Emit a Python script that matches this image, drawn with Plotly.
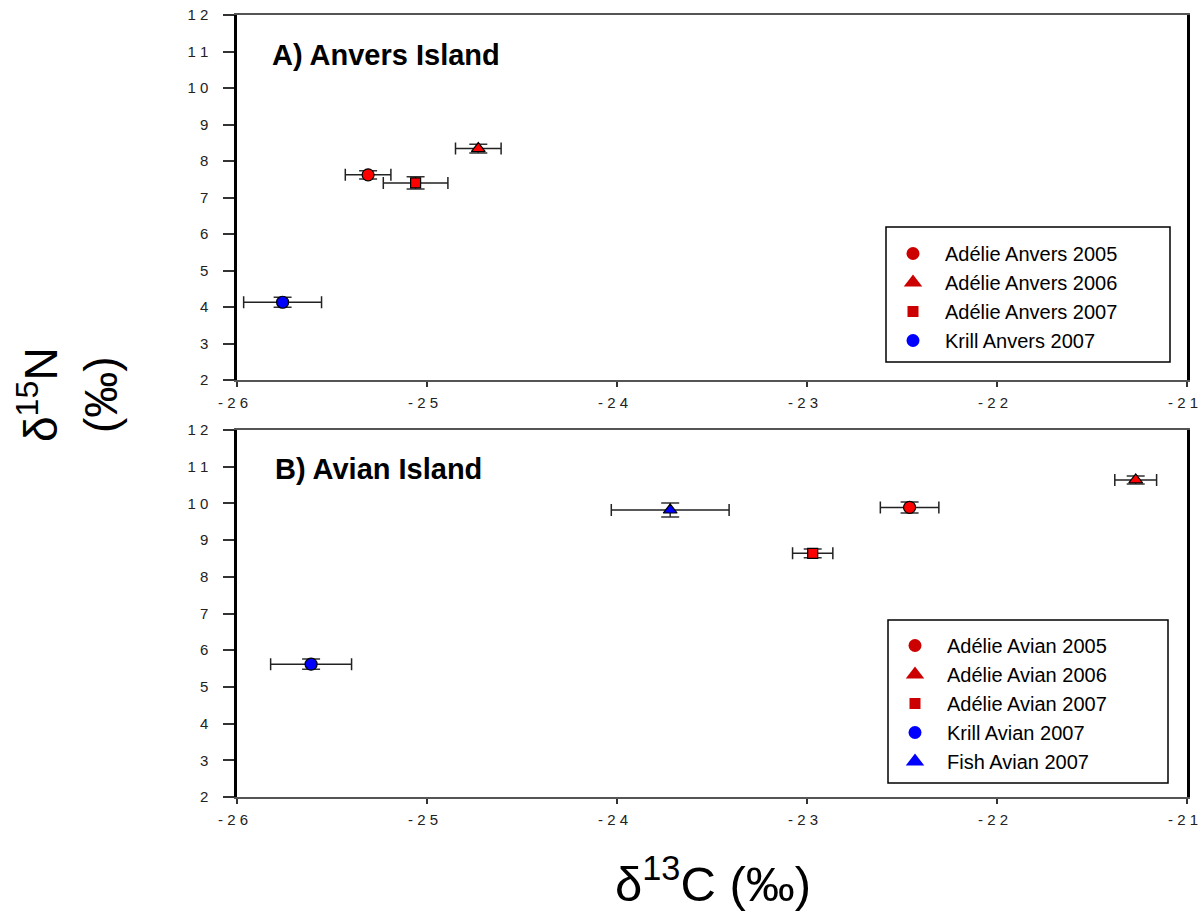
import plotly.graph_objects as go

# Anvers Island: mean δ13C / δ15N with SE
anvers_names = ["Adélie Anvers 2005", "Adélie Anvers 2006", "Adélie Anvers 2007", "Krill Anvers 2007"]
anvers_c = [-25.31, -24.73, -25.06, -25.76]
anvers_c_err = [0.12, 0.12, 0.17, 0.205]
anvers_n = [7.62, 8.34, 7.40, 4.13]
anvers_n_err = [0.11, 0.12, 0.17, 0.14]

# Avian Island
avian_names = ["Adélie Avian 2005", "Adélie Avian 2006", "Adélie Avian 2007", "Krill Avian 2007", "Fish Avian 2007"]
avian_c = [-22.46, -21.27, -22.97, -25.61, -23.72]
avian_c_err = [0.154, 0.11, 0.106, 0.213, 0.31]
avian_n = [9.89, 10.64, 8.64, 5.62, 9.82]
avian_n_err = [0.15, 0.11, 0.12, 0.14, 0.19]

x_ticks = [-26, -25, -24, -23, -22, -21]
x_tick_text = ["- 2 6", "- 2 5", "- 2 4", "- 2 3", "- 2 2", "- 2 1"]
y_ticks = list(range(2, 13))
y_tick_text = ["2", "3", "4", "5", "6", "7", "8", "9", "1 0", "1 1", "1 2"]

anvers_symbols = ["circle", "triangle-up", "square", "circle"]
anvers_colors = ["#ff0000", "#ff0000", "#ff0000", "#0000ff"]
anvers_legend_colors = ["#cc0000", "#cc0000", "#cc0000", "#0000ff"]
avian_symbols = ["circle", "triangle-up", "square", "circle", "triangle-up"]
avian_colors = ["#ff0000", "#ff0000", "#ff0000", "#0000ff", "#0000ff"]
avian_legend_colors = ["#cc0000", "#cc0000", "#cc0000", "#0000ff", "#0000ff"]

FONT = "Liberation Sans, Arial, sans-serif"
W, H = 1200, 913

fig = go.Figure()


def add_panel(names, cx, cxe, ny, nye, symbols, colors, lcolors, xa, ya, legend):
    for i, name in enumerate(names):
        size = 10 if symbols[i] == "square" else 12
        fig.add_trace(go.Scatter(
            x=[cx[i]], y=[ny[i]], mode="markers", xaxis=xa, yaxis=ya,
            showlegend=False,
            marker=dict(symbol=symbols[i], size=size, color=colors[i],
                        line=dict(color="black", width=1.2)),
            error_x=dict(type="data", array=[cxe[i]], color="#222222",
                         thickness=1.5, width=6),
            error_y=dict(type="data", array=[nye[i]], color="#333333",
                         thickness=1.5, width=9),
        ))
    # legend swatches: solid symbols without outline
    for i, name in enumerate(names):
        size = 11 if symbols[i] == "square" else (16 if symbols[i] == "triangle-up" else 13)
        fig.add_trace(go.Scatter(
            x=[None], y=[None], mode="markers", xaxis=xa, yaxis=ya,
            name=name, legend=legend,
            marker=dict(symbol=symbols[i], size=size, color=lcolors[i],
                        line=dict(width=0)),
        ))


add_panel(anvers_names, anvers_c, anvers_c_err, anvers_n, anvers_n_err,
          anvers_symbols, anvers_colors, anvers_legend_colors, "x", "y", "legend")
add_panel(avian_names, avian_c, avian_c_err, avian_n, avian_n_err,
          avian_symbols, avian_colors, avian_legend_colors, "x2", "y2", "legend2")

tick_font = dict(family=FONT, size=15, color="#222222")


def xaxis_style(anchor):
    return dict(range=[-26, -21], tickvals=x_ticks, ticktext=x_tick_text,
                domain=[237 / W, 1187 / W], anchor=anchor, automargin=False,
                showgrid=False, zeroline=False, showline=True,
                linecolor="#555555", linewidth=1.5, mirror=True,
                ticks="outside", ticklen=5, tickwidth=1.5, tickcolor="#333333",
                tickfont=tick_font, ticklabelstandoff=3, ticklabelshift=-4,
                ticklabeloverflow="allow")


def yaxis_style(anchor, top_px, bottom_px):
    return dict(range=[2, 12], tickvals=y_ticks, ticktext=y_tick_text,
                domain=[1 - bottom_px / H, 1 - top_px / H], anchor=anchor,
                automargin=False,
                showgrid=False, zeroline=False, showline=True,
                linecolor="black", linewidth=2.5, mirror=True,
                ticks="outside", ticklen=11, tickwidth=1.5, tickcolor="#333333",
                tickfont=tick_font, ticklabelstandoff=12, ticklabeloverflow="allow")


legend_style = dict(font=dict(family=FONT, size=20, color="black"),
                    bgcolor="rgba(0,0,0,0)", borderwidth=0,
                    xanchor="left", yanchor="top", itemsizing="trace",
                    itemwidth=54, tracegroupgap=0)

# legend frames (x0, y0, x1, y1 in pixels)
frames = [(886, 227, 1170, 362), (888, 620, 1168, 783)]
shapes = [dict(type="rect", xref="paper", yref="paper",
               x0=a / W, x1=c / W, y0=1 - d / H, y1=1 - b / H,
               line=dict(color="black", width=1.5), fillcolor="white", layer="below")
          for a, b, c, d in frames]

fig.update_layout(
    width=W, height=H,
    margin=dict(l=0, r=0, t=0, b=0, autoexpand=False),
    paper_bgcolor="white", plot_bgcolor="white",
    xaxis=xaxis_style("y"),
    yaxis=yaxis_style("x", 15, 380),
    xaxis2=xaxis_style("y2"),
    yaxis2=yaxis_style("x2", 430, 797),
    shapes=shapes,
    legend=dict(x=881 / W, y=1 - 234 / H, **legend_style),
    legend2=dict(x=883 / W, y=1 - 626 / H, **legend_style),
    annotations=[
        dict(text="<b>A) Anvers Island</b>", xref="x domain", yref="y domain",
             x=(270 - 237) / 950, y=1 - (55 - 15) / 365, xanchor="left", yanchor="middle",
             showarrow=False, font=dict(family=FONT, size=29, color="black")),
        dict(text="<b>B) Avian Island</b>", xref="x2 domain", yref="y2 domain",
             x=(273 - 237) / 950, y=1 - (469 - 430) / 367, xanchor="left", yanchor="middle",
             showarrow=False, font=dict(family=FONT, size=29, color="black")),
        dict(text="δ<sup>13</sup>C (‰)", xref="paper", yref="paper",
             x=713 / W, y=1 - 880 / H, xanchor="center", yanchor="middle",
             showarrow=False, font=dict(family=FONT, size=49, color="black")),
        dict(text="δ<sup>15</sup>N<br>(‰)", xref="paper", yref="paper",
             x=68 / W, y=1 - 395 / H, xanchor="center", yanchor="middle",
             textangle=-90, showarrow=False,
             font=dict(family=FONT, size=46, color="black")),
    ],
)

fig.write_html("out.html")
